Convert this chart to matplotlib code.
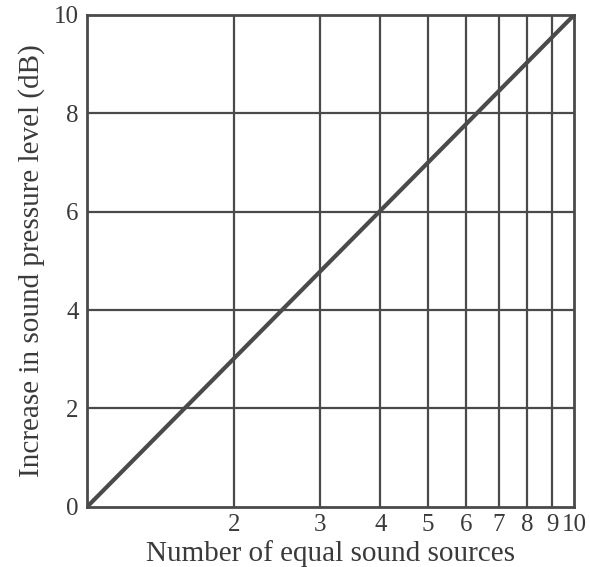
import matplotlib.pyplot as plt
from matplotlib.ticker import FixedLocator, NullLocator

plt.rcParams['font.family'] = ['Liberation Serif', 'DejaVu Serif']

# number of sources vs. increase in level (straight line on log axis)
sources = [1, 10]
increase_db = [0, 10]

x_ticks = [2, 3, 4, 5, 6, 7, 8, 9, 10]
x_labels = ['2', '3', '4', '5', '6', '7', '8', '9', '10']
y_ticks = [0, 2, 4, 6, 8, 10]

ink = '#4a4a4a'
text_ink = '#3a3a3a'

fig = plt.figure(figsize=(5.9, 5.67), dpi=100)
ax = fig.add_axes([0.1475, 0.106, 0.826, 0.868])

ax.set_xscale('log')
ax.set_xlim(1, 10)
ax.set_ylim(0, 10)

for x in x_ticks[:-1]:
    ax.axvline(x, color=ink, lw=1.6, zorder=1)
for y in y_ticks[1:-1]:
    ax.axhline(y, color=ink, lw=1.6, zorder=1)

ax.plot(sources, increase_db, color=ink, lw=3, solid_capstyle='round', zorder=2)

ax.xaxis.set_major_locator(FixedLocator(x_ticks))
ax.xaxis.set_minor_locator(NullLocator())
ax.set_xticklabels(x_labels)
ax.set_yticks(y_ticks)
ax.tick_params(length=0, labelsize=18, labelcolor=text_ink)
ax.tick_params(axis='y', pad=6)
ax.tick_params(axis='x', pad=5)

for s in ax.spines.values():
    s.set_color(ink)
    s.set_linewidth(2)

ax.set_xlabel('Number of equal sound sources', fontsize=21, color=text_ink, labelpad=3)
ax.set_ylabel('Increase in sound pressure level (dB)', fontsize=21, color=text_ink, labelpad=6)

fig.savefig('out.png', dpi=100)
